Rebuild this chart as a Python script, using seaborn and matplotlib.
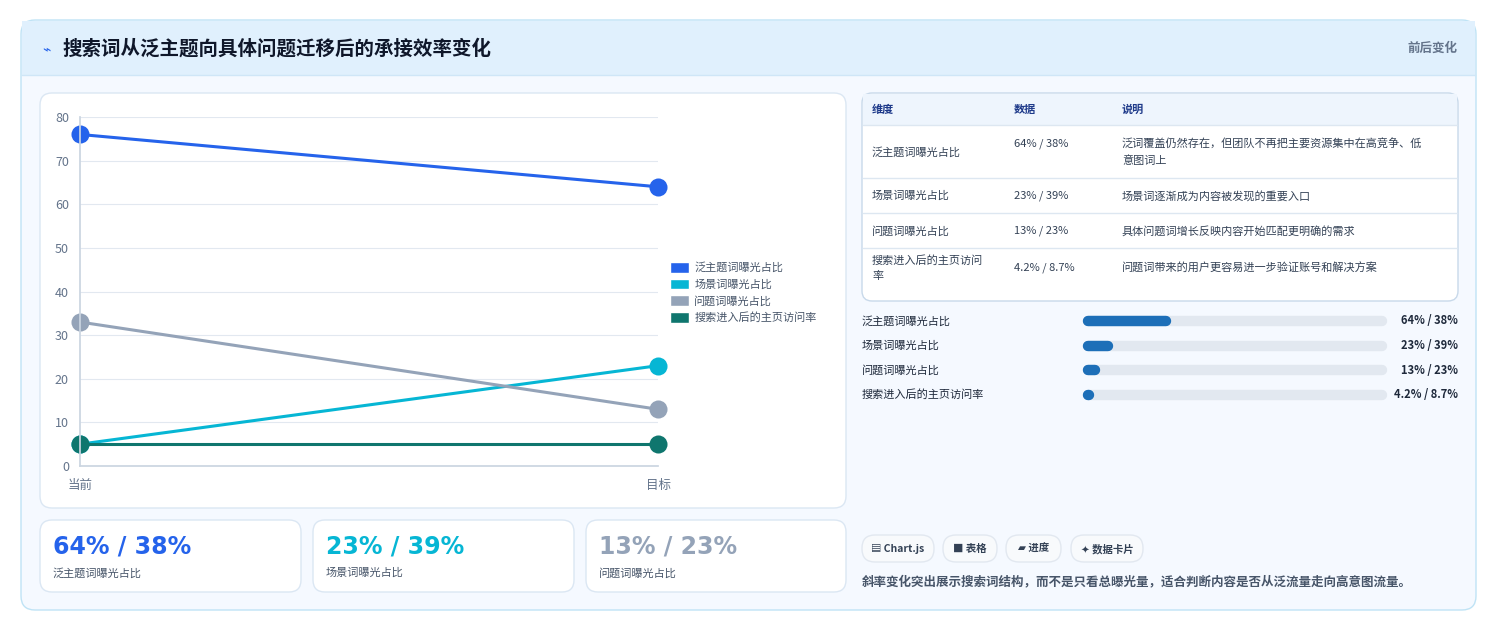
import matplotlib
matplotlib.use("Agg")
import matplotlib.pyplot as plt
import seaborn as sns
import pandas as pd
from matplotlib.patches import FancyBboxPatch, Rectangle

sns.set_theme(style="white")
plt.rcParams['font.family'] = ['Noto Sans CJK SC', 'DejaVu Sans']

stages = ["当前", "目标"]
series = ["泛主题词曝光占比", "场景词曝光占比", "问题词曝光占比", "搜索进入后的主页访问率"]
values_now = [76, 5, 33, 5]
values_target = [64, 23, 13, 5]
colors = ["#2563eb", "#06b6d4", "#94a3b8", "#0f766e"]
pair_labels = ["64% / 38%", "23% / 39%", "13% / 23%", "4.2% / 8.7%"]
notes = ["泛词覆盖仍然存在，但团队不再把主要资源集中在高竞争、低\n意图词上", "场景词逐渐成为内容被发现的重要入口",
         "具体问题词增长反映内容开始匹配更明确的需求", "问题词带来的用户更容易进一步验证账号和解决方案"]
table_names = ["泛主题词曝光占比", "场景词曝光占比", "问题词曝光占比", "搜索进入后的主页访问\n率"]
bar_fracs = [0.29, 0.10, 0.056, 0.03]
yticks = [0, 10, 20, 30, 40, 50, 60, 70, 80]

W, H = 1498, 632
fig = plt.figure(figsize=(W/100, H/100), dpi=100)
fig.patch.set_facecolor("white")
bg = fig.add_axes([0, 0, 1, 1])
bg.set_xlim(0, W); bg.set_ylim(H, 0); bg.axis("off")

def rbox(x0, y0, x1, y1, fc, ec, r=12, lw=1, z=1):
    bg.add_patch(FancyBboxPatch((x0, y0), x1-x0, y1-y0, boxstyle=f"round,pad=0,rounding_size={r}",
                                fc=fc, ec=ec, lw=lw, zorder=z))

rbox(21, 20, 1476, 610, "#f5f9ff", "#bfe3f5", r=14)
bg.add_patch(Rectangle((22, 21), 1453, 54, fc="#e0f0fd", ec="none", zorder=1.5))
bg.plot([22, 1475], [75, 75], color="#cfe6f7", lw=1, zorder=2)
bg.text(42, 49, "⌁", color="#2563eb", fontsize=10, va="center", zorder=3, family=["DejaVu Sans"])
bg.text(62, 49, "搜索词从泛主题向具体问题迁移后的承接效率变化", fontsize=14, fontweight="bold", color="#0f172a", va="center", zorder=3)
bg.text(1457, 48, "前后变化", fontsize=9, color="#64748b", ha="right", va="center", fontweight="bold", zorder=3)

rbox(40, 93, 846, 508, "white", "#dbe7f3")
# table
rbox(862, 93, 1458, 301, "white", "#c8d9ea", r=10)
bg.add_patch(Rectangle((863, 94), 594, 31, fc="#eef5fd", ec="none", zorder=1.5))
for yy in [125, 178, 213, 248]:
    bg.plot([863, 1457], [yy, yy], color="#dde7f1", lw=1, zorder=2)
for x, t in zip([872, 1014, 1122], ["维度", "数据", "说明"]):
    bg.text(x, 109, t, fontsize=8, color="#1e3a8a", fontweight="bold", va="center", zorder=3)
rows_y = [152, 196, 231, 268]
for yy, n, p, d in zip(rows_y, table_names, pair_labels, notes):
    bg.text(872, yy, n, fontsize=8, color="#334155", va="center", zorder=3, linespacing=1.7, fontweight="medium")
    bg.text(1014, yy - (8 if "\n" in d else 0), p, fontsize=8, color="#334155", va="center", zorder=3, fontweight="medium")
    bg.text(1122, yy, d, fontsize=8, color="#334155", va="center", zorder=3, linespacing=1.7, fontweight="medium")
# progress bars
x0b, x1b = 1083, 1387
for i, (n, f, p) in enumerate(zip(series, bar_fracs, pair_labels)):
    yy = 321 + i*24.5
    bg.text(862, yy, n, fontsize=8, color="#1e293b", va="center", zorder=3, fontweight="medium")
    bg.plot([x0b+5, x1b-5], [yy, yy], color="#e2e8f0", lw=7.5, solid_capstyle="round", zorder=2)
    bg.plot([x0b+5, max(x0b+6, x0b + (x1b-x0b)*f - 5)], [yy, yy], color="#1d6fb8", lw=7.5,
            solid_capstyle="round", zorder=3)
    bg.text(1458, yy, p, fontsize=8, color="#1e293b", ha="right", va="center", fontweight="bold", zorder=3)
# chips
for x0, x1, t in [(862, 934, "▤ Chart.js"), (943, 997, "■ 表格"), (1006, 1061, "▰ 进度"), (1071, 1143, "✦ 数据卡片")]:
    rbox(x0, 535, x1, 562, "#f8fafc", "#e2e8f0", r=13)
    bg.text((x0+x1)/2, 549, t, fontsize=7.5, color="#334155", ha="center", va="center", fontweight="bold", zorder=3)
bg.text(862, 582, "斜率变化突出展示搜索词结构，而不是只看总曝光量，适合判断内容是否从泛流量走向高意图流量。",
        fontsize=9, color="#475569", va="center", fontweight="bold", zorder=3)
# cards
for (x0, x1), big, lab, c in zip([(40, 301), (313, 574), (586, 846)], pair_labels[:3], series[:3], colors[:3]):
    rbox(x0, 520, x1, 592, "white", "#dbe7f3")
    bg.text(x0+13, 546, big, fontsize=17, fontweight="heavy", color=c, va="center", zorder=3, family=["DejaVu Sans"])
    bg.text(x0+13, 573, lab, fontsize=8, color="#475569", va="center", zorder=3, fontweight="medium")

# line chart
rows = []
for s, a, b in zip(series, values_now, values_target):
    rows += [{"阶段": stages[0], "系列": s, "值": a}, {"阶段": stages[1], "系列": s, "值": b}]
df = pd.DataFrame(rows)
ax = fig.add_axes([80/W, 1-466/H, 578/W, 349/H])
ax.patch.set_alpha(0)
sns.lineplot(data=df, x="阶段", y="值", hue="系列", palette=colors, marker="o", markersize=13,
             markeredgewidth=0, linewidth=2.2, ax=ax, legend=False, sort=False)
ax.set_ylim(0, 80); ax.set_xlim(0.0, 1.0)
ax.set_yticks(yticks)
ax.grid(axis="y", color="#e2e8f0", lw=0.8)
for line in ax.lines:
    line.set_clip_on(False)
for sp in ["top", "right"]:
    ax.spines[sp].set_visible(False)
ax.spines["left"].set_color("#cbd5e1"); ax.spines["bottom"].set_color("#cbd5e1")
ax.tick_params(axis="y", colors="#64748b", labelsize=9, length=0, pad=8)
ax.tick_params(axis="x", colors="#64748b", labelsize=9, length=0, pad=9)
ax.set_xlabel(""); ax.set_ylabel("")
handles = [Rectangle((0, 0), 1, 1, fc=c) for c in colors]
fig.legend(handles, series, loc="upper left", bbox_to_anchor=(660/W, 1-252/H), frameon=False,
           fontsize=8, handlelength=1.7, handleheight=1.1, labelspacing=0.5, handletextpad=0.5,
           labelcolor="#475569")

fig.savefig("out.png", dpi=100, facecolor="white")
